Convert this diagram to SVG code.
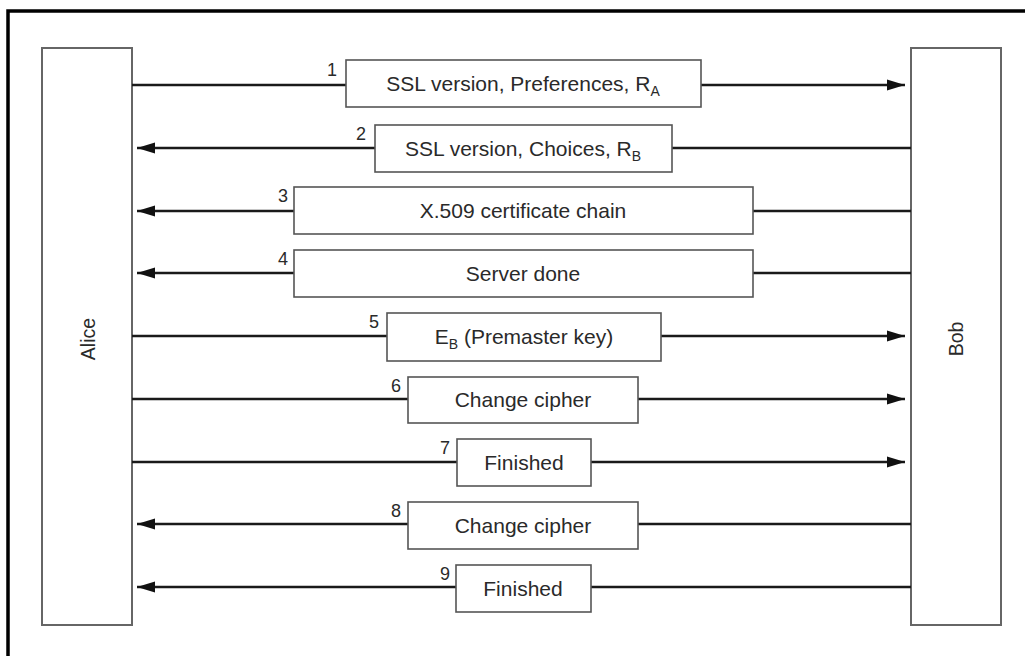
<svg xmlns="http://www.w3.org/2000/svg" width="1025" height="656" viewBox="0 0 1025 656">
<defs>
<style>
.frame{fill:none;stroke:#000;stroke-width:3.5}
.party{fill:#fff;stroke:#666;stroke-width:2}
.msg{fill:#fff;stroke:#555;stroke-width:1.6}
.ln{stroke:#1a1a1a;stroke-width:2.6;fill:none}
.t{font-family:"Liberation Sans",Arial,sans-serif;font-size:21px;fill:#2a2a2a;text-anchor:middle}
.n{font-family:"Liberation Sans",Arial,sans-serif;font-size:18px;fill:#2a2a2a;text-anchor:end}
.sub{font-size:14px}
</style>
<marker id="ah" markerUnits="userSpaceOnUse" markerWidth="19" markerHeight="12" refX="18" refY="6" orient="auto">
<path d="M0,0.5 L18,6 L0,11.5 z" fill="#111"/>
</marker>
</defs>
<rect width="1025" height="656" fill="#fff"/>
<rect class="frame" x="8" y="11" width="1022" height="655"/>

<g id="alice">
<rect class="party" x="42" y="48" width="90" height="577"/>
<text class="t" style="font-size:19.5px" transform="translate(95,339) rotate(-90)">Alice</text>
</g>
<g id="bob">
<rect class="party" x="911" y="48" width="90" height="577"/>
<text class="t" style="font-size:19.5px" transform="translate(963,339) rotate(-90)">Bob</text>
</g>

<g id="connectors">
<line class="ln" x1="132" y1="85" x2="346" y2="85"/>
<line class="ln" x1="701" y1="85" x2="905" y2="85" marker-end="url(#ah)"/>
<line class="ln" x1="911" y1="148" x2="672" y2="148"/>
<line class="ln" x1="375" y1="148" x2="137" y2="148" marker-end="url(#ah)"/>
<line class="ln" x1="911" y1="211" x2="753" y2="211"/>
<line class="ln" x1="294" y1="211" x2="137" y2="211" marker-end="url(#ah)"/>
<line class="ln" x1="911" y1="273" x2="753" y2="273"/>
<line class="ln" x1="294" y1="273" x2="137" y2="273" marker-end="url(#ah)"/>
<line class="ln" x1="132" y1="336" x2="387" y2="336"/>
<line class="ln" x1="661" y1="336" x2="905" y2="336" marker-end="url(#ah)"/>
<line class="ln" x1="132" y1="399" x2="408" y2="399"/>
<line class="ln" x1="638" y1="399" x2="905" y2="399" marker-end="url(#ah)"/>
<line class="ln" x1="132" y1="462" x2="457" y2="462"/>
<line class="ln" x1="591" y1="462" x2="905" y2="462" marker-end="url(#ah)"/>
<line class="ln" x1="911" y1="524" x2="638" y2="524"/>
<line class="ln" x1="408" y1="524" x2="137" y2="524" marker-end="url(#ah)"/>
<line class="ln" x1="911" y1="587" x2="591" y2="587"/>
<line class="ln" x1="456" y1="587" x2="137" y2="587" marker-end="url(#ah)"/>
</g>

<g id="m1">
<rect class="msg" x="346" y="60" width="355" height="47"/>
<text class="n" x="337" y="76">1</text>
<text class="t" x="523" y="91">SSL version, Preferences, R<tspan class="sub" dy="5">A</tspan></text>
</g>
<g id="m2">
<rect class="msg" x="375" y="125" width="297" height="47"/>
<text class="n" x="366" y="140">2</text>
<text class="t" x="523" y="156">SSL version, Choices, R<tspan class="sub" dy="5">B</tspan></text>
</g>
<g id="m3">
<rect class="msg" x="294" y="187" width="459" height="47"/>
<text class="n" x="288" y="202">3</text>
<text class="t" x="523" y="218">X.509 certificate chain</text>
</g>
<g id="m4">
<rect class="msg" x="294" y="250" width="459" height="47"/>
<text class="n" x="288" y="265">4</text>
<text class="t" x="523" y="281">Server done</text>
</g>
<g id="m5">
<rect class="msg" x="387" y="313" width="274" height="48"/>
<text class="n" x="379" y="328">5</text>
<text class="t" x="524" y="344">E<tspan class="sub" dy="5">B</tspan><tspan dy="-5"> (Premaster key)</tspan></text>
</g>
<g id="m6">
<rect class="msg" x="408" y="377" width="230" height="46"/>
<text class="n" x="401" y="392">6</text>
<text class="t" x="523" y="407">Change cipher</text>
</g>
<g id="m7">
<rect class="msg" x="457" y="439" width="134" height="47"/>
<text class="n" x="450" y="454">7</text>
<text class="t" x="524" y="470">Finished</text>
</g>
<g id="m8">
<rect class="msg" x="408" y="502" width="230" height="47"/>
<text class="n" x="401" y="517">8</text>
<text class="t" x="523" y="533">Change cipher</text>
</g>
<g id="m9">
<rect class="msg" x="456" y="565" width="135" height="47"/>
<text class="n" x="450" y="580">9</text>
<text class="t" x="523" y="596">Finished</text>
</g>
</svg>
